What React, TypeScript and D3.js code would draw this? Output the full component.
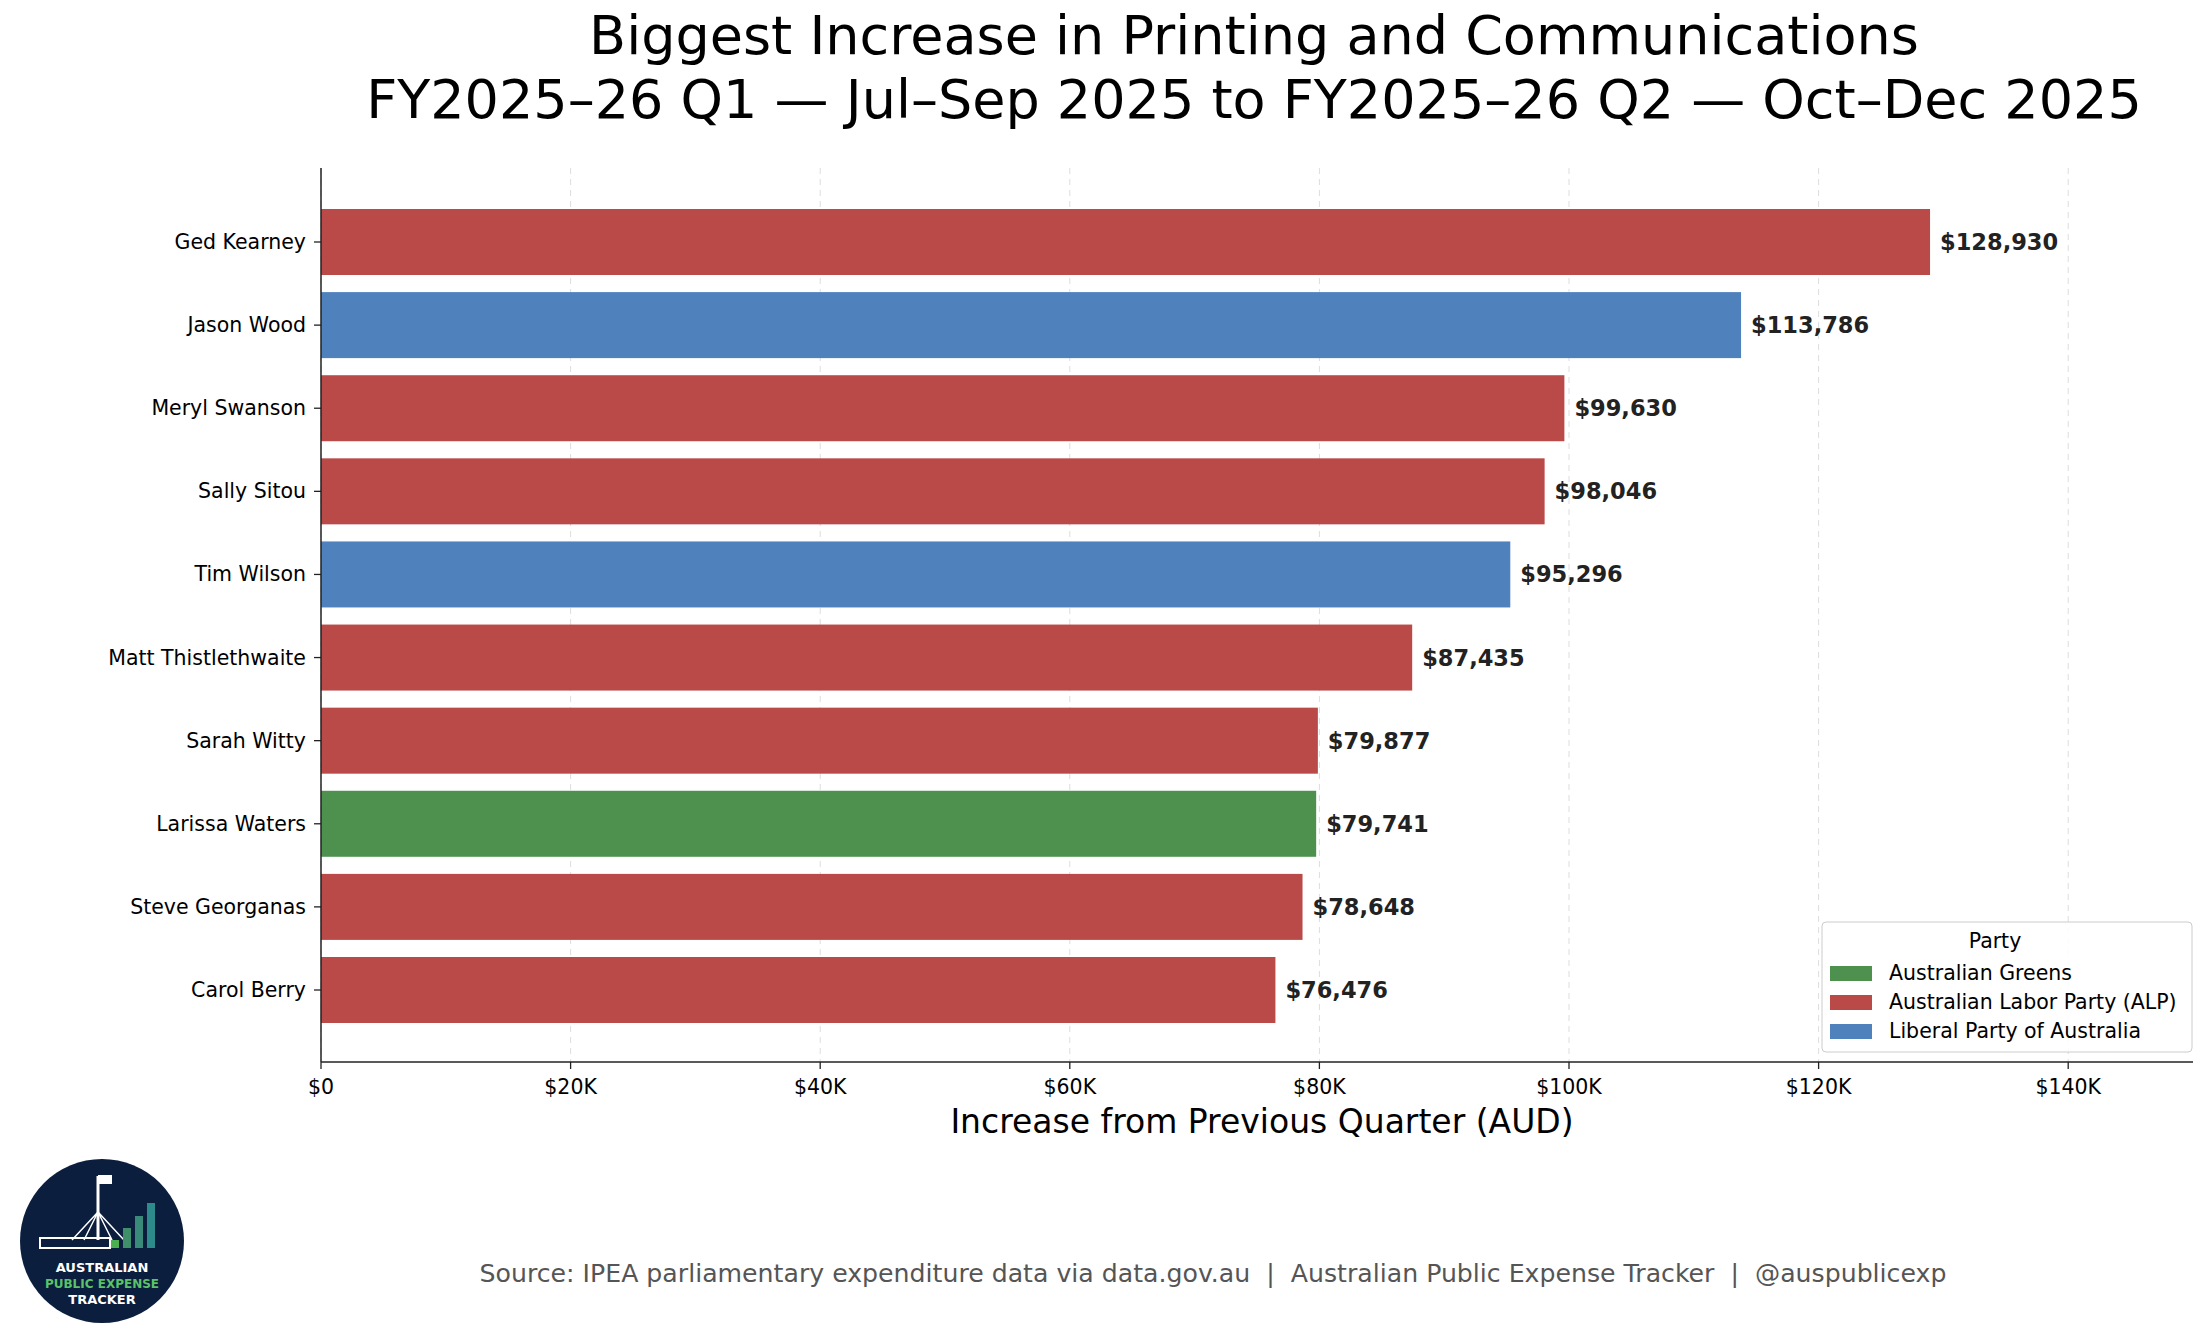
import React from "react";
import * as d3 from "d3";

const names = ["Ged Kearney", "Jason Wood", "Meryl Swanson", "Sally Sitou", "Tim Wilson", "Matt Thistlethwaite", "Sarah Witty", "Larissa Waters", "Steve Georganas", "Carol Berry"];
const values = [128930, 113786, 99630, 98046, 95296, 87435, 79877, 79741, 78648, 76476];
const parties = ["ALP", "LIB", "ALP", "ALP", "LIB", "ALP", "ALP", "GRN", "ALP", "ALP"];
const xTicks = [0, 20000, 40000, 60000, 80000, 100000, 120000, 140000];
const legendKeys = ["GRN", "ALP", "LIB"];
const legendLabels = ["Australian Greens", "Australian Labor Party (ALP)", "Liberal Party of Australia"];
const colors: Record<string, string> = { GRN: "#4e914f", ALP: "#b94a48", LIB: "#4f81bd" };

export default function App() {
  const W = 2205, H = 1337;
  const left = 321, right = 2193, top = 168, bottom = 1062;
  const font = "DejaVu Sans, sans-serif";
  const x = d3.scaleLinear().domain([0, 150000]).range([left, right]);
  const y = d3.scaleLinear().domain([0, 9]).range([242, 990]);
  const bh = 66;
  const fmt = d3.format(",");

  return (
    <svg width={W} height={H} style={{ position: "absolute", left: 0, top: 0, fontFamily: font }}>
      <rect width={W} height={H} fill="white" />
      <text x={1254} y={54} textAnchor="middle" fontSize={54}>Biggest Increase in Printing and Communications</text>
      <text x={1254} y={118} textAnchor="middle" fontSize={54}>FY2025–26 Q1 — Jul–Sep 2025 to FY2025–26 Q2 — Oct–Dec 2025</text>
      {xTicks.map(t => (
        <g key={t}>
          <line x1={x(t)} x2={x(t)} y1={top} y2={bottom} stroke="#ddd" strokeDasharray="6,5" />
          <line x1={x(t)} x2={x(t)} y1={bottom} y2={bottom + 7} stroke="#222" strokeWidth={1.3} />
          <text x={x(t)} y={bottom + 32} textAnchor="middle" fontSize={20.5}>{t === 0 ? "$0" : `$${t / 1000}K`}</text>
        </g>
      ))}
      {names.map((n, i) => (
        <g key={n}>
          <rect x={x(0)} y={y(i) - bh / 2} width={x(values[i]) - x(0)} height={bh} fill={colors[parties[i]]} />
          <line x1={left - 7} x2={left} y1={y(i)} y2={y(i)} stroke="#222" strokeWidth={1.3} />
          <text x={left - 15} y={y(i) + 7} textAnchor="end" fontSize={20.5}>{n}</text>
          <text x={x(values[i]) + 10} y={y(i) + 8} fontSize={22.5} fontWeight="bold" fill="#222">${fmt(values[i])}</text>
        </g>
      ))}
      <line x1={left} x2={left} y1={top} y2={bottom} stroke="#222" strokeWidth={1.5} />
      <line x1={left} x2={right} y1={bottom} y2={bottom} stroke="#222" strokeWidth={1.5} />
      <text x={1262} y={1133} textAnchor="middle" fontSize={33}>Increase from Previous Quarter (AUD)</text>
      <g>
        <rect x={1822} y={922} width={370} height={130} rx={4} fill="white" fillOpacity={0.85} stroke="#ccc" />
        <text x={1995} y={948} textAnchor="middle" fontSize={20.5}>Party</text>
        {legendKeys.map((k, i) => (
          <g key={k}>
            <rect x={1830} y={966 + i * 29} width={42} height={15} fill={colors[k]} />
            <text x={1889} y={980 + i * 29} fontSize={20.5}>{legendLabels[i]}</text>
          </g>
        ))}
      </g>
      <g>
        <circle cx={102} cy={1241} r={82} fill="#0b1e3d" />
        <line x1={98} x2={98} y1={1176} y2={1240} stroke="white" strokeWidth={3} />
        <rect x={98} y={1175} width={14} height={9} fill="white" />
        <path d="M98 1212 L72 1240 M98 1212 L84 1240 M98 1212 L112 1240 M98 1212 L124 1240" stroke="white" strokeWidth={1.5} fill="none" />
        <rect x={40} y={1238} width={70} height={10} fill="none" stroke="white" strokeWidth={2} />
        <rect x={111} y={1240} width={8} height={8} fill="#4caf50" />
        <rect x={123} y={1228} width={8} height={20} fill="#3f8f6a" />
        <rect x={135} y={1216} width={8} height={32} fill="#3a8a7a" />
        <rect x={147} y={1203} width={8} height={45} fill="#2e8b8b" />
        <text x={102} y={1272} textAnchor="middle" fontSize={13} fontWeight="bold" fill="white">AUSTRALIAN</text>
        <text x={102} y={1288} textAnchor="middle" fontSize={12} fontWeight="bold" fill="#5cc26a">PUBLIC EXPENSE</text>
        <text x={102} y={1304} textAnchor="middle" fontSize={13} fontWeight="bold" fill="white">TRACKER</text>
      </g>
      <text x={1213} y={1282} textAnchor="middle" fontSize={25.2} fill="#555" style={{ whiteSpace: "pre" }}>Source: IPEA parliamentary expenditure data via data.gov.au  |  Australian Public Expense Tracker  |  @auspublicexp</text>
    </svg>
  );
}
